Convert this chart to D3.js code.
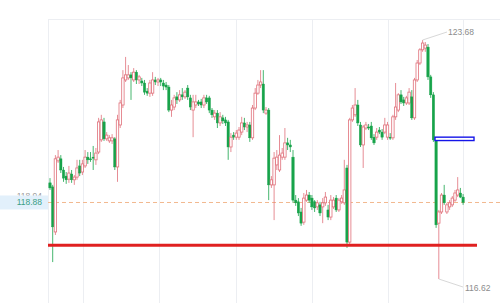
<!DOCTYPE html>
<html>
<head>
<meta charset="utf-8">
<script src="https://cdn.jsdelivr.net/npm/d3@7"></script>
<style>
  body { margin: 0; background: #fff; }
  svg { display: block; }
</style>
</head>
<body>
<div class="svg-container"></div>
<script>
// candle values, oldest first
const open = [
  119.46, 119.34, 118.01, 120.11, 120.17, 119.84, 119.66, 119.57, 119.72, 119.55,
  119.63, 119.96, 119.78, 119.96, 120.22, 120.17, 120.22, 120.14, 120.37, 120.73,
  121.26, 120.76, 120.70, 120.70, 120.76, 119.93, 121.17, 121.76, 122.50, 122.56,
  122.65, 122.50, 122.73, 122.50, 122.47, 122.41, 122.17, 122.11, 122.11, 122.50,
  122.44, 122.50, 122.41, 122.35, 122.29, 121.61, 121.70, 122.00, 121.91, 122.06,
  122.00, 122.26, 121.97, 121.61, 121.76, 121.85, 121.85, 121.76, 121.97, 121.97,
  121.61, 121.41, 121.52, 121.23, 121.38, 121.32, 121.26, 120.52, 120.87, 120.81,
  120.81, 120.96, 121.23, 121.11, 121.17, 120.79, 121.67, 122.11, 122.35, 122.38,
  121.52, 121.61, 119.40, 119.40, 119.99, 119.84, 120.22, 120.22, 120.64, 120.58,
  120.22, 118.95, 118.90, 118.60, 118.30, 118.95, 119.10, 119.01, 118.90, 118.75,
  118.81, 118.75, 118.87, 118.66, 118.45, 118.75, 119.01, 118.66, 118.90, 118.87,
  119.90, 117.71, 121.32, 121.47, 121.76, 121.17, 120.58, 121.08, 121.11, 121.14,
  120.81, 120.81, 121.02, 120.96, 120.96, 120.81, 120.81, 120.79, 121.41, 121.61,
  122.06, 121.91, 121.82, 121.82, 122.00, 121.38, 122.50, 123.00, 123.39, 123.44,
  123.47, 122.59, 122.06, 120.73, 118.27, 118.60, 119.10, 118.60, 118.75, 118.81,
  118.95, 119.10, 119.16, 119.04
];
const high = [
  119.60, 119.40, 120.28, 120.43, 120.28, 119.93, 119.78, 119.96, 119.84, 119.69,
  120.14, 120.14, 120.14, 120.43, 120.37, 120.37, 120.55, 120.49, 121.38, 121.47,
  121.38, 120.96, 120.87, 120.90, 120.81, 121.47, 121.91, 122.79, 123.18, 122.94,
  122.73, 122.85, 122.79, 122.65, 122.56, 122.50, 122.26, 122.50, 122.73, 122.59,
  122.56, 122.56, 122.50, 122.44, 122.35, 121.91, 122.06, 122.14, 122.20, 122.26,
  122.20, 122.35, 122.06, 122.06, 122.06, 121.91, 121.94, 122.06, 122.06, 122.03,
  121.67, 121.61, 121.61, 121.55, 121.47, 121.41, 121.32, 120.93, 120.96, 121.02,
  121.11, 121.41, 121.38, 121.26, 121.26, 121.76, 122.26, 122.50, 122.79, 122.79,
  121.70, 121.67, 119.66, 120.37, 120.43, 120.87, 120.49, 121.08, 120.79, 120.73,
  120.43, 119.10, 119.01, 118.72, 119.16, 119.25, 119.19, 119.10, 118.95, 118.95,
  118.90, 119.01, 119.19, 118.81, 119.10, 119.04, 119.10, 119.01, 119.10, 120.14,
  119.99, 121.38, 121.76, 122.26, 121.91, 121.26, 121.17, 121.26, 121.20, 121.26,
  120.90, 121.08, 121.11, 121.05, 121.38, 121.26, 120.93, 121.47, 122.41, 122.11,
  122.20, 122.00, 122.03, 122.26, 122.20, 122.56, 123.09, 123.44, 123.68, 123.62,
  123.56, 122.65, 122.14, 120.79, 118.66, 119.16, 119.40, 118.87, 118.95, 119.07,
  119.25, 119.63, 119.31, 119.13
];
const low = [
  119.25, 117.12, 117.92, 120.05, 119.75, 119.49, 119.43, 119.46, 119.46, 119.40,
  119.55, 119.66, 119.69, 119.90, 120.02, 120.08, 119.84, 119.99, 120.31, 120.67,
  120.70, 120.70, 120.64, 120.61, 119.84, 119.49, 121.08, 121.67, 122.44, 122.50,
  121.91, 122.44, 122.38, 122.38, 122.32, 122.06, 122.03, 122.00, 122.03, 122.35,
  122.32, 122.32, 122.20, 122.20, 121.55, 121.41, 121.61, 121.79, 121.85, 121.91,
  121.94, 121.91, 121.61, 120.81, 121.67, 121.73, 121.67, 121.67, 121.79, 121.52,
  121.38, 121.32, 121.08, 121.14, 121.20, 121.14, 120.14, 120.37, 120.73, 120.73,
  120.73, 120.87, 121.02, 120.96, 120.67, 120.73, 121.61, 122.06, 122.26, 121.52,
  121.47, 118.95, 119.31, 118.36, 119.84, 119.78, 120.14, 120.14, 120.43, 120.37,
  118.87, 118.78, 118.48, 118.19, 118.22, 118.90, 118.87, 118.66, 118.60, 118.66,
  118.48, 118.27, 118.78, 118.36, 118.36, 118.69, 118.60, 118.60, 118.84, 118.81,
  117.54, 117.65, 121.26, 121.41, 121.14, 120.52, 119.90, 121.02, 121.02, 120.73,
  120.58, 120.73, 120.90, 120.73, 120.90, 120.73, 120.73, 120.73, 121.32, 121.55,
  121.79, 121.73, 121.76, 121.76, 121.32, 121.32, 122.44, 122.94, 123.33, 123.33,
  122.50, 121.97, 120.67, 118.13, 116.62, 118.54, 118.81, 118.54, 118.66, 118.75,
  118.90, 119.04, 119.01, 118.81
];
const close = [
  119.31, 118.16, 120.17, 120.22, 119.84, 119.60, 119.55, 119.75, 119.55, 119.63,
  119.90, 119.75, 120.02, 120.22, 120.14, 120.14, 120.19, 120.34, 121.26, 121.32,
  120.76, 120.87, 120.79, 120.79, 119.93, 121.32, 121.82, 122.56, 122.65, 122.65,
  122.56, 122.73, 122.50, 122.59, 122.41, 122.14, 122.11, 122.41, 122.50, 122.44,
  122.50, 122.44, 122.32, 122.29, 121.61, 121.76, 121.97, 121.91, 122.06, 122.00,
  122.14, 122.00, 121.70, 121.85, 121.85, 121.79, 121.76, 121.97, 121.85, 121.61,
  121.47, 121.52, 121.23, 121.41, 121.29, 121.23, 120.52, 120.81, 120.81, 120.93,
  121.02, 121.23, 121.11, 121.17, 120.79, 121.67, 122.11, 122.35, 122.44, 121.61,
  121.61, 119.40, 119.55, 120.19, 120.22, 120.28, 120.34, 120.64, 120.58, 120.52,
  118.95, 118.87, 118.57, 118.27, 119.01, 119.10, 118.95, 118.75, 118.72, 118.87,
  118.57, 118.87, 119.04, 118.45, 118.95, 118.95, 118.66, 118.95, 119.01, 119.25,
  117.71, 121.32, 121.67, 121.76, 121.23, 120.58, 121.11, 121.17, 121.08, 120.79,
  120.64, 120.96, 120.96, 120.81, 121.17, 121.17, 120.79, 121.41, 121.70, 122.06,
  121.85, 121.82, 121.97, 122.14, 121.38, 122.50, 123.00, 123.39, 123.59, 123.53,
  122.59, 122.06, 120.73, 118.22, 118.60, 119.10, 118.87, 118.81, 118.87, 119.01,
  119.16, 119.25, 119.04, 118.88
];

const lastPrice = 118.88;
const prevPrice = 118.94;
const supportLevel = 117.62;
const markLevel = 120.76;
const maxPrice = 123.68;
const minPrice = 116.62;
// vertical grid positions, in candle index units
const gridIdx = [12.2, 40.4, 68.9, 97, 125.2, 153];

const width = 500;
const height = 303;
const plot = { left: 48, top: 19, right: 500, bottom: 303 };

const upColour = '#e0707a';
const downColour = '#17a34a';

const n = close.length;
const candles = d3.range(n).map((i) => ({
  i: i, o: open[i], h: high[i], l: low[i], c: close[i]
}));

const svg = d3.select('.svg-container')
  .append('svg')
  .attr('width', width)
  .attr('height', height)
  .style('font-family', '"Liberation Sans", Arial, sans-serif');

const x = d3.scaleBand()
  .domain(d3.range(n))
  .range([48.65, 464.45])
  .paddingInner(0.25)
  .paddingOuter(0.125);

const xc = (i) => x(i) + x.bandwidth() / 2;
const xi = d3.scaleLinear().domain([0, n - 1]).range([xc(0), xc(n - 1)]);

const y = d3.scaleLinear()
  .domain([minPrice, maxPrice])
  .range([279, 40]);

// frame + grid
svg.append('line')
  .attr('x1', plot.left).attr('x2', plot.right)
  .attr('y1', plot.top + 0.5).attr('y2', plot.top + 0.5)
  .attr('stroke', '#eceef2');

svg.append('line')
  .attr('x1', plot.left + 0.5).attr('x2', plot.left + 0.5)
  .attr('y1', plot.top).attr('y2', plot.bottom)
  .attr('stroke', '#eceef2');

svg.append('g')
  .selectAll('line')
  .data(gridIdx)
  .enter()
  .append('line')
  .attr('x1', (d) => Math.round(xi(d)) + 0.5)
  .attr('x2', (d) => Math.round(xi(d)) + 0.5)
  .attr('y1', plot.top)
  .attr('y2', plot.bottom)
  .attr('stroke', '#eceef2');

// previous-price label, mostly hidden behind the current one
svg.append('text')
  .attr('x', 42)
  .attr('y', y(prevPrice) - 1.5)
  .attr('text-anchor', 'end')
  .attr('font-size', '8.5px')
  .attr('fill', '#9a9a9a')
  .text(prevPrice.toFixed(2));

svg.append('rect')
  .attr('x', 0)
  .attr('y', y(lastPrice) - 7)
  .attr('width', plot.left)
  .attr('height', 14)
  .attr('fill', '#e2f0fb');

svg.append('text')
  .attr('x', 42)
  .attr('y', y(lastPrice) + 3)
  .attr('text-anchor', 'end')
  .attr('font-size', '8.5px')
  .attr('fill', '#3a9f86')
  .text(lastPrice.toFixed(2));

// current price dashed line
svg.append('line')
  .attr('x1', plot.left).attr('x2', plot.right)
  .attr('y1', y(lastPrice)).attr('y2', y(lastPrice))
  .attr('stroke', '#f2b98f')
  .attr('stroke-width', 1)
  .attr('stroke-dasharray', '4,3');

// candles
const g = svg.append('g');

g.selectAll('line.wick')
  .data(candles)
  .enter()
  .append('line')
  .attr('class', 'wick')
  .attr('x1', (d) => xc(d.i))
  .attr('x2', (d) => xc(d.i))
  .attr('y1', (d) => y(d.h))
  .attr('y2', (d) => y(d.l))
  .attr('stroke', (d) => (d.c >= d.o ? upColour : downColour))
  .attr('stroke-width', 0.8);

g.selectAll('rect.body')
  .data(candles)
  .enter()
  .append('rect')
  .attr('class', 'body')
  .attr('x', (d) => xc(d.i) - 1.2)
  .attr('width', 2.4)
  .attr('y', (d) => y(Math.max(d.o, d.c)))
  .attr('height', (d) => Math.max(1, Math.abs(y(d.o) - y(d.c))))
  .attr('fill', (d) => (d.c >= d.o ? '#fff' : downColour))
  .attr('stroke', (d) => (d.c >= d.o ? upColour : downColour))
  .attr('stroke-width', (d) => (d.c >= d.o ? 0.8 : 0.4));

// support line
svg.append('line')
  .attr('x1', plot.left).attr('x2', 477)
  .attr('y1', y(supportLevel)).attr('y2', y(supportLevel))
  .attr('stroke', '#e02020')
  .attr('stroke-width', 3);

// marker
svg.append('rect')
  .attr('x', 435)
  .attr('y', y(markLevel) - 1.7)
  .attr('width', 39)
  .attr('height', 3.4)
  .attr('fill', '#fff')
  .attr('stroke', '#1515e8')
  .attr('stroke-width', 1.4);

// high / low annotations
const hiIdx = high.indexOf(maxPrice);
const loIdx = low.indexOf(minPrice);

svg.append('line')
  .attr('x1', xc(hiIdx)).attr('y1', y(maxPrice))
  .attr('x2', 447).attr('y2', 32)
  .attr('stroke', '#d8d8d8');

svg.append('text')
  .attr('x', 448)
  .attr('y', 35)
  .attr('font-size', '8.5px')
  .attr('fill', '#8c8c8c')
  .text(maxPrice.toFixed(2));

svg.append('line')
  .attr('x1', xc(loIdx)).attr('y1', y(minPrice))
  .attr('x2', 463).attr('y2', 287)
  .attr('stroke', '#d8d8d8');

svg.append('text')
  .attr('x', 465)
  .attr('y', 291)
  .attr('font-size', '8.5px')
  .attr('fill', '#8c8c8c')
  .text(minPrice.toFixed(2));
</script>
</body>
</html>
